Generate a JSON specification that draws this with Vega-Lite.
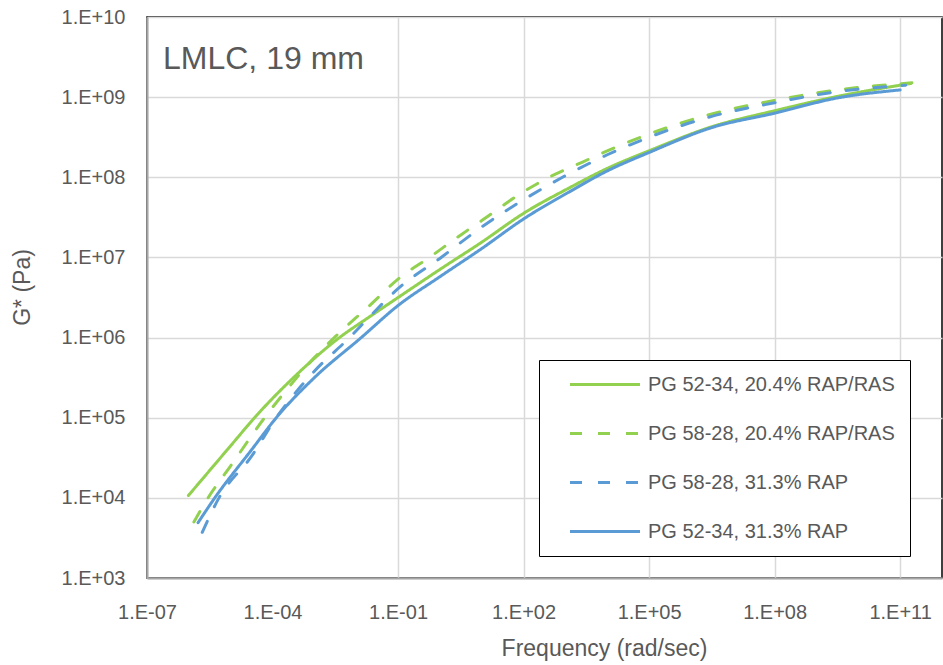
{
  "$schema": "https://vega.github.io/schema/vega-lite/v6.json",
  "width": 795,
  "height": 561,
  "autosize": {"type": "none"},
  "padding": {"left": 147, "top": 17, "right": 1, "bottom": 87},
  "background": "white",
  "title": {
    "text": "LMLC, 19 mm",
    "anchor": "start",
    "frame": "group",
    "orient": "top",
    "baseline": "alphabetic",
    "offset": 0,
    "dx": 16,
    "dy": 94,
    "fontSize": 32,
    "fontWeight": "normal",
    "color": "#595959",
    "font": "Liberation Sans"
  },
  "data": {
    "values": [
      {"s": "PG 52-34, 20.4% RAP/RAS", "x": 9.77e-7, "y": 1.07e4},
      {"s": "PG 52-34, 20.4% RAP/RAS", "x": 1e-5, "y": 4.47e4},
      {"s": "PG 52-34, 20.4% RAP/RAS", "x": 3.72e-5, "y": 1e5},
      {"s": "PG 52-34, 20.4% RAP/RAS", "x": 3.16e-4, "y": 3.16e5},
      {"s": "PG 52-34, 20.4% RAP/RAS", "x": 3.98e-3, "y": 1e6},
      {"s": "PG 52-34, 20.4% RAP/RAS", "x": 0.0209, "y": 1.82e6},
      {"s": "PG 52-34, 20.4% RAP/RAS", "x": 0.1, "y": 3.16e6},
      {"s": "PG 52-34, 20.4% RAP/RAS", "x": 1, "y": 7.08e6},
      {"s": "PG 52-34, 20.4% RAP/RAS", "x": 10, "y": 1.55e7},
      {"s": "PG 52-34, 20.4% RAP/RAS", "x": 100, "y": 3.55e7},
      {"s": "PG 52-34, 20.4% RAP/RAS", "x": 1259, "y": 7.41e7},
      {"s": "PG 52-34, 20.4% RAP/RAS", "x": 1e4, "y": 1.29e8},
      {"s": "PG 52-34, 20.4% RAP/RAS", "x": 1e5, "y": 2.14e8},
      {"s": "PG 52-34, 20.4% RAP/RAS", "x": 3.16e6, "y": 4.27e8},
      {"s": "PG 52-34, 20.4% RAP/RAS", "x": 1e8, "y": 6.76e8},
      {"s": "PG 52-34, 20.4% RAP/RAS", "x": 3.16e9, "y": 1.02e9},
      {"s": "PG 52-34, 20.4% RAP/RAS", "x": 1.78e11, "y": 1.48e9},

      {"s": "PG 58-28, 20.4% RAP/RAS", "x": 1.32e-6, "y": 5.01e3},
      {"s": "PG 58-28, 20.4% RAP/RAS", "x": 2.88e-6, "y": 1e4},
      {"s": "PG 58-28, 20.4% RAP/RAS", "x": 1e-5, "y": 2.51e4},
      {"s": "PG 58-28, 20.4% RAP/RAS", "x": 6.46e-5, "y": 1e5},
      {"s": "PG 58-28, 20.4% RAP/RAS", "x": 3.16e-4, "y": 2.82e5},
      {"s": "PG 58-28, 20.4% RAP/RAS", "x": 1e-3, "y": 5.62e5},
      {"s": "PG 58-28, 20.4% RAP/RAS", "x": 3.31e-3, "y": 1.05e6},
      {"s": "PG 58-28, 20.4% RAP/RAS", "x": 0.0209, "y": 2.51e6},
      {"s": "PG 58-28, 20.4% RAP/RAS", "x": 0.1, "y": 5.37e6},
      {"s": "PG 58-28, 20.4% RAP/RAS", "x": 0.562, "y": 1e7},
      {"s": "PG 58-28, 20.4% RAP/RAS", "x": 3.16, "y": 1.91e7},
      {"s": "PG 58-28, 20.4% RAP/RAS", "x": 10, "y": 2.88e7},
      {"s": "PG 58-28, 20.4% RAP/RAS", "x": 100, "y": 6.61e7},
      {"s": "PG 58-28, 20.4% RAP/RAS", "x": 407, "y": 1e8},
      {"s": "PG 58-28, 20.4% RAP/RAS", "x": 2570, "y": 1.55e8},
      {"s": "PG 58-28, 20.4% RAP/RAS", "x": 1e4, "y": 2.14e8},
      {"s": "PG 58-28, 20.4% RAP/RAS", "x": 1e5, "y": 3.47e8},
      {"s": "PG 58-28, 20.4% RAP/RAS", "x": 3.16e6, "y": 6.17e8},
      {"s": "PG 58-28, 20.4% RAP/RAS", "x": 1e8, "y": 9.12e8},
      {"s": "PG 58-28, 20.4% RAP/RAS", "x": 3.16e9, "y": 1.23e9},
      {"s": "PG 58-28, 20.4% RAP/RAS", "x": 1.91e11, "y": 1.51e9},

      {"s": "PG 58-28, 31.3% RAP", "x": 2.09e-6, "y": 3.72e3},
      {"s": "PG 58-28, 31.3% RAP", "x": 5.25e-6, "y": 1e4},
      {"s": "PG 58-28, 31.3% RAP", "x": 3.16e-5, "y": 3.31e4},
      {"s": "PG 58-28, 31.3% RAP", "x": 1.23e-4, "y": 1e5},
      {"s": "PG 58-28, 31.3% RAP", "x": 1e-3, "y": 3.8e5},
      {"s": "PG 58-28, 31.3% RAP", "x": 6.92e-3, "y": 1e6},
      {"s": "PG 58-28, 31.3% RAP", "x": 0.0209, "y": 1.82e6},
      {"s": "PG 58-28, 31.3% RAP", "x": 0.1, "y": 4.07e6},
      {"s": "PG 58-28, 31.3% RAP", "x": 1.07, "y": 1e7},
      {"s": "PG 58-28, 31.3% RAP", "x": 10, "y": 2.4e7},
      {"s": "PG 58-28, 31.3% RAP", "x": 100, "y": 5.25e7},
      {"s": "PG 58-28, 31.3% RAP", "x": 851, "y": 1e8},
      {"s": "PG 58-28, 31.3% RAP", "x": 1e4, "y": 1.91e8},
      {"s": "PG 58-28, 31.3% RAP", "x": 1e5, "y": 3.16e8},
      {"s": "PG 58-28, 31.3% RAP", "x": 3.16e6, "y": 5.75e8},
      {"s": "PG 58-28, 31.3% RAP", "x": 1e8, "y": 8.51e8},
      {"s": "PG 58-28, 31.3% RAP", "x": 3.16e9, "y": 1.17e9},
      {"s": "PG 58-28, 31.3% RAP", "x": 1.35e11, "y": 1.41e9},

      {"s": "PG 52-34, 31.3% RAP", "x": 1.66e-6, "y": 4.9e3},
      {"s": "PG 52-34, 31.3% RAP", "x": 4.17e-6, "y": 1e4},
      {"s": "PG 52-34, 31.3% RAP", "x": 3.16e-5, "y": 3.98e4},
      {"s": "PG 52-34, 31.3% RAP", "x": 1.23e-4, "y": 1e5},
      {"s": "PG 52-34, 31.3% RAP", "x": 1e-3, "y": 3.16e5},
      {"s": "PG 52-34, 31.3% RAP", "x": 0.0132, "y": 1e6},
      {"s": "PG 52-34, 31.3% RAP", "x": 0.1, "y": 2.51e6},
      {"s": "PG 52-34, 31.3% RAP", "x": 1, "y": 5.75e6},
      {"s": "PG 52-34, 31.3% RAP", "x": 10, "y": 1.29e7},
      {"s": "PG 52-34, 31.3% RAP", "x": 100, "y": 3.02e7},
      {"s": "PG 52-34, 31.3% RAP", "x": 1259, "y": 6.61e7},
      {"s": "PG 52-34, 31.3% RAP", "x": 1e4, "y": 1.2e8},
      {"s": "PG 52-34, 31.3% RAP", "x": 1e5, "y": 2.04e8},
      {"s": "PG 52-34, 31.3% RAP", "x": 3.16e6, "y": 4.17e8},
      {"s": "PG 52-34, 31.3% RAP", "x": 1e8, "y": 6.31e8},
      {"s": "PG 52-34, 31.3% RAP", "x": 3.16e9, "y": 9.77e8},
      {"s": "PG 52-34, 31.3% RAP", "x": 1e11, "y": 1.23e9}
    ]
  },
  "mark": {"type": "line", "strokeWidth": 3, "strokeCap": "round", "interpolate": "monotone", "clip": true},
  "encoding": {
    "x": {
      "field": "x",
      "type": "quantitative",
      "scale": {"type": "log", "domain": [1e-7, 1e12], "nice": false},
      "axis": {
        "title": "Frequency (rad/sec)",
        "values": [1e-7, 1e-4, 0.1, 100, 1e5, 1e8, 1e11],
        "labelExpr": "'1.E' + (datum.value >= 1 ? '+' : '-') + (abs(round(log(datum.value)/LN10)) < 10 ? '0' : '') + abs(round(log(datum.value)/LN10))",
        "labelPadding": 24,
        "labelBaseline": "top",
        "titleX": 457,
        "titleY": 77,
        "titleBaseline": "alphabetic",
        "titleAnchor": "middle",
        "titleAlign": "center",
        "gridColor": {"condition": {"test": "datum.value > 0.00001 && datum.value < 0.001", "value": "transparent"}, "value": "#d9d9d9"}
      }
    },
    "y": {
      "field": "y",
      "type": "quantitative",
      "scale": {"type": "log", "domain": [1e3, 1e10], "nice": false},
      "axis": {
        "title": "G* (Pa)",
        "values": [1e3, 1e4, 1e5, 1e6, 1e7, 1e8, 1e9, 1e10],
        "labelExpr": "'1.E' + (datum.value >= 1 ? '+' : '-') + (abs(round(log(datum.value)/LN10)) < 10 ? '0' : '') + abs(round(log(datum.value)/LN10))",
        "labelPadding": 22,
        "titleX": -125,
        "titleY": 270,
        "titleAngle": -90,
        "titleAlign": "center",
        "titleBaseline": "middle"
      }
    },
    "color": {
      "field": "s",
      "type": "nominal",
      "scale": {
        "domain": ["PG 52-34, 20.4% RAP/RAS", "PG 58-28, 20.4% RAP/RAS", "PG 58-28, 31.3% RAP", "PG 52-34, 31.3% RAP"],
        "range": ["#92D050", "#92D050", "#5B9BD5", "#5B9BD5"]
      },
      "legend": {"title": null}
    },
    "strokeDash": {
      "field": "s",
      "type": "nominal",
      "scale": {
        "domain": ["PG 52-34, 20.4% RAP/RAS", "PG 58-28, 20.4% RAP/RAS", "PG 58-28, 31.3% RAP", "PG 52-34, 31.3% RAP"],
        "range": [[1, 0], [12, 16], [12, 16], [1, 0]]
      },
      "legend": {"title": null}
    }
  },
  "config": {
    "font": "Liberation Sans",
    "view": {"stroke": "#000000", "strokeWidth": 1.5},
    "axis": {
      "ticks": false,
      "domainColor": "#a6a6a6",
      "domainWidth": 2,
      "gridColor": "#d9d9d9",
      "gridWidth": 1.5,
      "labelFont": "Liberation Sans",
      "labelFontSize": 20,
      "labelColor": "#595959",
      "titleFont": "Liberation Sans",
      "titleFontSize": 23,
      "titleFontWeight": "normal",
      "titleColor": "#595959",
      "labelFlush": false,
      "labelOverlap": false
    },
    "legend": {
      "orient": "none",
      "legendX": 392,
      "legendY": 343,
      "direction": "vertical",
      "strokeColor": "#000000",
      "fillColor": "#ffffff",
      "padding": 14.5,
      "rowPadding": 29,
      "symbolType": "M-4.375,0H4.375",
      "symbolSize": 256,
      "symbolStrokeWidth": 3,
      "symbolOffset": 41.5,
      "labelOffset": 33,
      "labelFont": "Liberation Sans",
      "labelFontSize": 20,
      "labelColor": "#595959",
      "labelLimit": 400
    }
  }
}
